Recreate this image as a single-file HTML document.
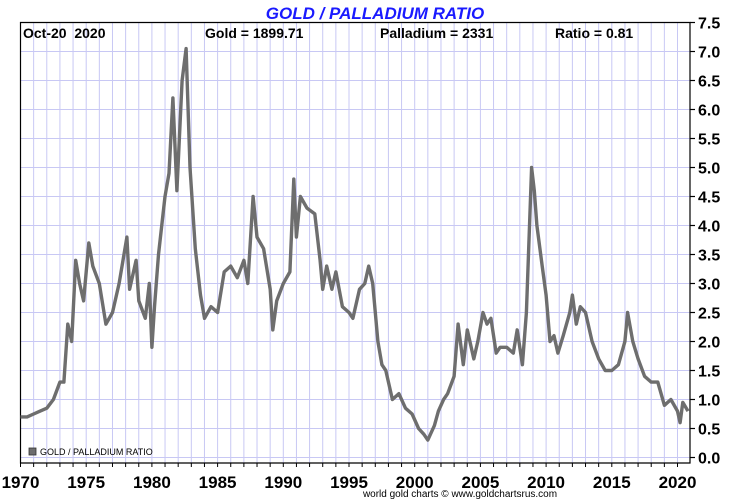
<!DOCTYPE html>
<html><head><meta charset="utf-8"><style>
body{margin:0;background:#fff;}
svg{display:block;font-family:"Liberation Sans",sans-serif;}
</style></head><body>
<svg id="chart" width="750" height="500">
<text x="375" y="19" text-anchor="middle" font-size="17" font-weight="bold" font-style="italic" fill="#1a1aff">GOLD / PALLADIUM RATIO</text>
<g id="grid"></g>
<g id="axes"></g>
<path id="series" fill="none" stroke="#6e6e6e" stroke-width="3.4" stroke-linejoin="round"/>
<g font-size="14" font-weight="bold" fill="#000">
<text x="23" y="38">Oct-20&#160;&#160;2020</text>
<text x="205" y="38">Gold = 1899.71</text>
<text x="380" y="38">Palladium = 2331</text>
<text x="555" y="38">Ratio = 0.81</text>
</g>
<g>
<rect x="29" y="448" width="7" height="7" fill="#6e6e6e" stroke="#333" stroke-width="0.8"/>
<text x="40" y="455" font-size="9" fill="#000">GOLD / PALLADIUM RATIO</text>
</g>
<text x="460" y="497" text-anchor="middle" font-size="10" fill="#000">world gold charts © www.goldchartsrus.com</text>
</svg>
<script>
const years=[1970,1970.5,1971,1971.5,1972,1972.5,1973,1973.3,1973.6,1973.9,1974.2,1974.5,1974.8,1975.2,1975.5,1976,1976.5,1977,1977.5,1978.1,1978.3,1978.8,1979,1979.5,1979.8,1980,1980.2,1980.5,1981,1981.3,1981.6,1981.9,1982.3,1982.6,1982.9,1983.3,1983.7,1984,1984.5,1985,1985.5,1986,1986.5,1987,1987.3,1987.7,1988,1988.5,1989,1989.2,1989.5,1990,1990.5,1990.8,1991,1991.3,1991.8,1992.4,1992.8,1993,1993.3,1993.7,1994,1994.5,1995,1995.3,1995.8,1996.2,1996.5,1996.8,1997.2,1997.5,1997.8,1998.3,1998.8,1999.3,1999.8,2000.3,2000.7,2001,2001.5,2001.8,2002.2,2002.5,2003,2003.3,2003.7,2004,2004.5,2004.8,2005.2,2005.5,2005.8,2006.2,2006.5,2007,2007.5,2007.8,2008.2,2008.5,2008.9,2009.1,2009.3,2009.7,2010,2010.3,2010.6,2010.9,2011.3,2011.8,2012,2012.3,2012.6,2013,2013.5,2014,2014.5,2015,2015.5,2016,2016.2,2016.6,2017,2017.5,2018,2018.5,2019,2019.5,2020,2020.2,2020.4,2020.8];
const ratios=[0.7,0.7,0.75,0.8,0.85,1.0,1.3,1.3,2.3,2.0,3.4,3.0,2.7,3.7,3.3,3.0,2.3,2.5,3.0,3.8,2.9,3.4,2.7,2.4,3.0,1.9,2.6,3.5,4.5,4.9,6.2,4.6,6.5,7.05,5.0,3.6,2.8,2.4,2.6,2.5,3.2,3.3,3.1,3.4,3.0,4.5,3.8,3.6,2.9,2.2,2.7,3.0,3.2,4.8,3.8,4.5,4.3,4.2,3.4,2.9,3.3,2.9,3.2,2.6,2.5,2.4,2.9,3.0,3.3,3.0,2.0,1.6,1.5,1.0,1.1,0.85,0.75,0.5,0.4,0.3,0.55,0.8,1.0,1.1,1.4,2.3,1.6,2.2,1.7,2.0,2.5,2.3,2.4,1.8,1.9,1.9,1.8,2.2,1.6,2.5,5.0,4.6,4.0,3.3,2.8,2.0,2.1,1.8,2.1,2.5,2.8,2.3,2.6,2.5,2.0,1.7,1.5,1.5,1.6,2.0,2.5,2.0,1.7,1.4,1.3,1.3,0.9,1.0,0.8,0.6,0.95,0.8];
const yTicks=[0,0.5,1,1.5,2,2.5,3,3.5,4,4.5,5,5.5,6,6.5,7,7.5];
const xTickYears=[1970,1975,1980,1985,1990,1995,2000,2005,2010,2015,2020];
const L=20.5,R=690,T=22.5,B=463,x0=1970,pxYear=13.14,y0=457.5,pxUnit=58;
const X=v=>L+(v-x0)*pxYear, Y=v=>y0-v*pxUnit;
const NS='http://www.w3.org/2000/svg';
const grid=document.getElementById('grid'),axes=document.getElementById('axes');
function mk(tag,attrs,parent){const e=document.createElementNS(NS,tag);for(const k in attrs)e.setAttribute(k,attrs[k]);parent.appendChild(e);return e;}
for(let yr=1971;yr<=2020;yr++){
 const l=mk('line',{x1:X(yr),x2:X(yr),y1:T,y2:B,stroke:'#c8c8f4','stroke-width':1},grid);
 
 
}
yTicks.forEach(v=>{
 if(v<7.5){const l=mk('line',{x1:L,x2:R,y1:Y(v),y2:Y(v),stroke:'#c8c8f4','stroke-width':1},grid);
 
 }
 const t=mk('line',{x1:R,x2:R+5,y1:Y(v),y2:Y(v),stroke:'#000','stroke-width':1.2},axes);
 
 
 const tx=mk('text',{x:R+8,y:Y(v)+6,'font-size':16,'font-weight':'bold'},axes);
 tx.textContent=v.toFixed(1);
 
 
});
for(let yr=1970;yr<=2020;yr++){
 const t=mk('line',{x1:X(yr),x2:X(yr),y1:B,y2:B+4,stroke:'#000','stroke-width':1},axes);
 
 
}
xTickYears.forEach(yr=>{
 const tx=mk('text',{x:X(yr),y:488,'font-size':17,'font-weight':'bold','text-anchor':'middle'},axes);
 tx.textContent=yr;
 
 
});
const frame=mk('path',{d:`M${L},${T}H${R}V${B}H${L}Z`,fill:'none',stroke:'#000','stroke-width':1.2},axes);


document.getElementById('series').setAttribute('d',years.map((yr,i)=>(i?'L':'M')+X(yr).toFixed(1)+','+Y(ratios[i]).toFixed(1)).join(''));
</script>
</body></html>
